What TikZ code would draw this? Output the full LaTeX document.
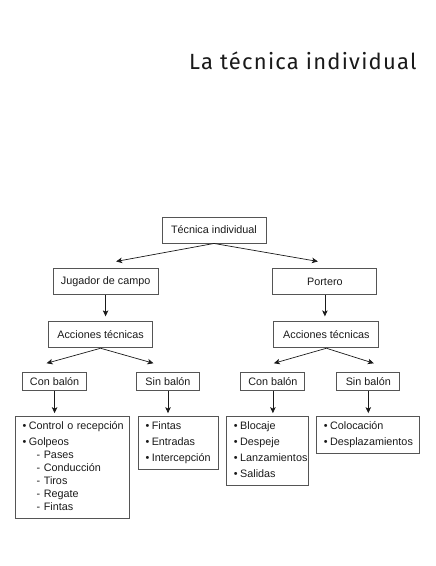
\documentclass[tikz,border=0pt]{standalone}
\usepackage{fontspec}
\setmainfont{Liberation Sans}
\newfontfamily\titlefont[LetterSpace=5.5]{Fira Sans}
\usepackage{xcolor}
\usetikzlibrary{calc,positioning,arrows.meta}
\definecolor{boxgray}{HTML}{555555}
\definecolor{inkgray}{HTML}{1A1A1A}
\newcommand{\itm}[1]{\mbox{\textbullet\hspace{2.5pt}#1}}
\newcommand{\subitm}[1]{\mbox{\hspace*{14pt}- #1}}

\begin{document}
\begin{tikzpicture}[
        box/.style={draw=boxgray,line width=0.9pt,text=inkgray,inner sep=0pt,font=\fontsize{10.8}{13}\selectfont},
        bigbox/.style={box,minimum width=104pt,minimum height=26pt},
        smallbox/.style={box,minimum width=64pt,minimum height=18pt},
        listbox/.style={box,align=left,inner xsep=7pt,inner ysep=4pt},
        arr/.style={-{Stealth[length=6pt,width=5.5pt,inset=1.5pt]},draw=inkgray,line width=0.7pt}
    ]
        \useasboundingbox (0,0) rectangle (436pt,-566pt);

        %title
        \node[anchor=base west,font=\titlefont\fontsize{22}{24}\selectfont,text=inkgray,inner sep=0pt] (title) at (189pt,-69pt) {La técnica individual};

        %level 1
        \node[bigbox] (tec) at (214pt,-230pt) {Técnica individual};

        %level 2
        \node[bigbox,minimum width=105pt,below left=25pt and 3pt of tec] (jug) {Jugador de campo};
        \node[bigbox,below right=25pt and 6pt of tec] (port) {Portero};

        %level 3
        \node[bigbox,below=26pt of jug,xshift=-5pt] (accL) {Acciones técnicas};
        \node[bigbox,minimum width=105pt,below=26pt of port,xshift=1.5pt] (accR) {Acciones técnicas};

        %level 4
        \node[smallbox,below=24pt of accL,xshift=-46pt] (conL) {Con balón};
        \node[smallbox,minimum width=63pt,right=49pt of conL] (sinL) {Sin balón};
        \node[smallbox,below=24pt of accR,xshift=-53.5pt] (conR) {Con balón};
        \node[smallbox,minimum width=63pt,right=31pt of conR] (sinR) {Sin balón};

        %level 5
        \node[listbox,text width=99.5pt,below right=25pt and -7pt of conL.south west] (lstConL) {%
            \strut\itm{Control o recepción}\\[3pt]
            \itm{Golpeos}\\
            \subitm{Pases}\\
            \subitm{Conducción}\\
            \subitm{Tiros}\\
            \subitm{Regate}\\
            \subitm{Fintas}\strut};
        \node[listbox,text width=66pt,below right=25pt and 2pt of sinL.south west] (lstSinL) {%
            \strut\itm{Fintas}\\[3pt]
            \itm{Entradas}\\[3pt]
            \itm{Intercepción}\strut};
        \node[listbox,text width=68pt,below right=25pt and -14pt of conR.south west] (lstConR) {%
            \strut\itm{Blocaje}\\[3pt]
            \itm{Despeje}\\[3pt]
            \itm{Lanzamientos}\\[3pt]
            \itm{Salidas}\strut};
        \node[listbox,text width=89pt,below right=25pt and -20pt of sinR.south west] (lstSinR) {%
            \strut\itm{Colocación}\\[3pt]
            \itm{Desplazamientos}\strut};

        %arrow ends
        \coordinate (tJug) at ($(jug.north)+(10.5pt,7pt)$);
        \coordinate (tPort) at ($(port.north)+(-7pt,7pt)$);
        \coordinate (tConL) at ($(conL.north)+(-8pt,9pt)$);
        \coordinate (tSinL) at ($(sinL.north)+(-14.5pt,9pt)$);
        \coordinate (tConR) at ($(conR.north)+(1pt,9pt)$);
        \coordinate (tSinR) at ($(sinR.north)+(5.5pt,9pt)$);

        %diagonal arrows
        \draw[arr] (tec.south) -- (tJug);
        \draw[arr] (tec.south) -- (tPort);
        \draw[arr] (accL.south) -- (tConL);
        \draw[arr] (accL.south) -- (tSinL);
        \draw[arr] (accR.south) -- (tConR);
        \draw[arr] (accR.south) -- (tSinR);

        %vertical arrows
        \draw[arr,shorten >=5pt] (jug.south) -- (jug.south |- accL.north);
        \draw[arr,shorten >=5pt] (port.south) -- (port.south |- accR.north);
        \draw[arr,shorten >=3pt] (conL.south) -- (conL.south |- lstConL.north);
        \draw[arr,shorten >=3pt] (sinL.south) -- (sinL.south |- lstSinL.north);
        \draw[arr,shorten >=3pt] (conR.south) -- (conR.south |- lstConR.north);
        \draw[arr,shorten >=3pt] (sinR.south) -- (sinR.south |- lstSinR.north);
    \end{tikzpicture}
\end{document}
